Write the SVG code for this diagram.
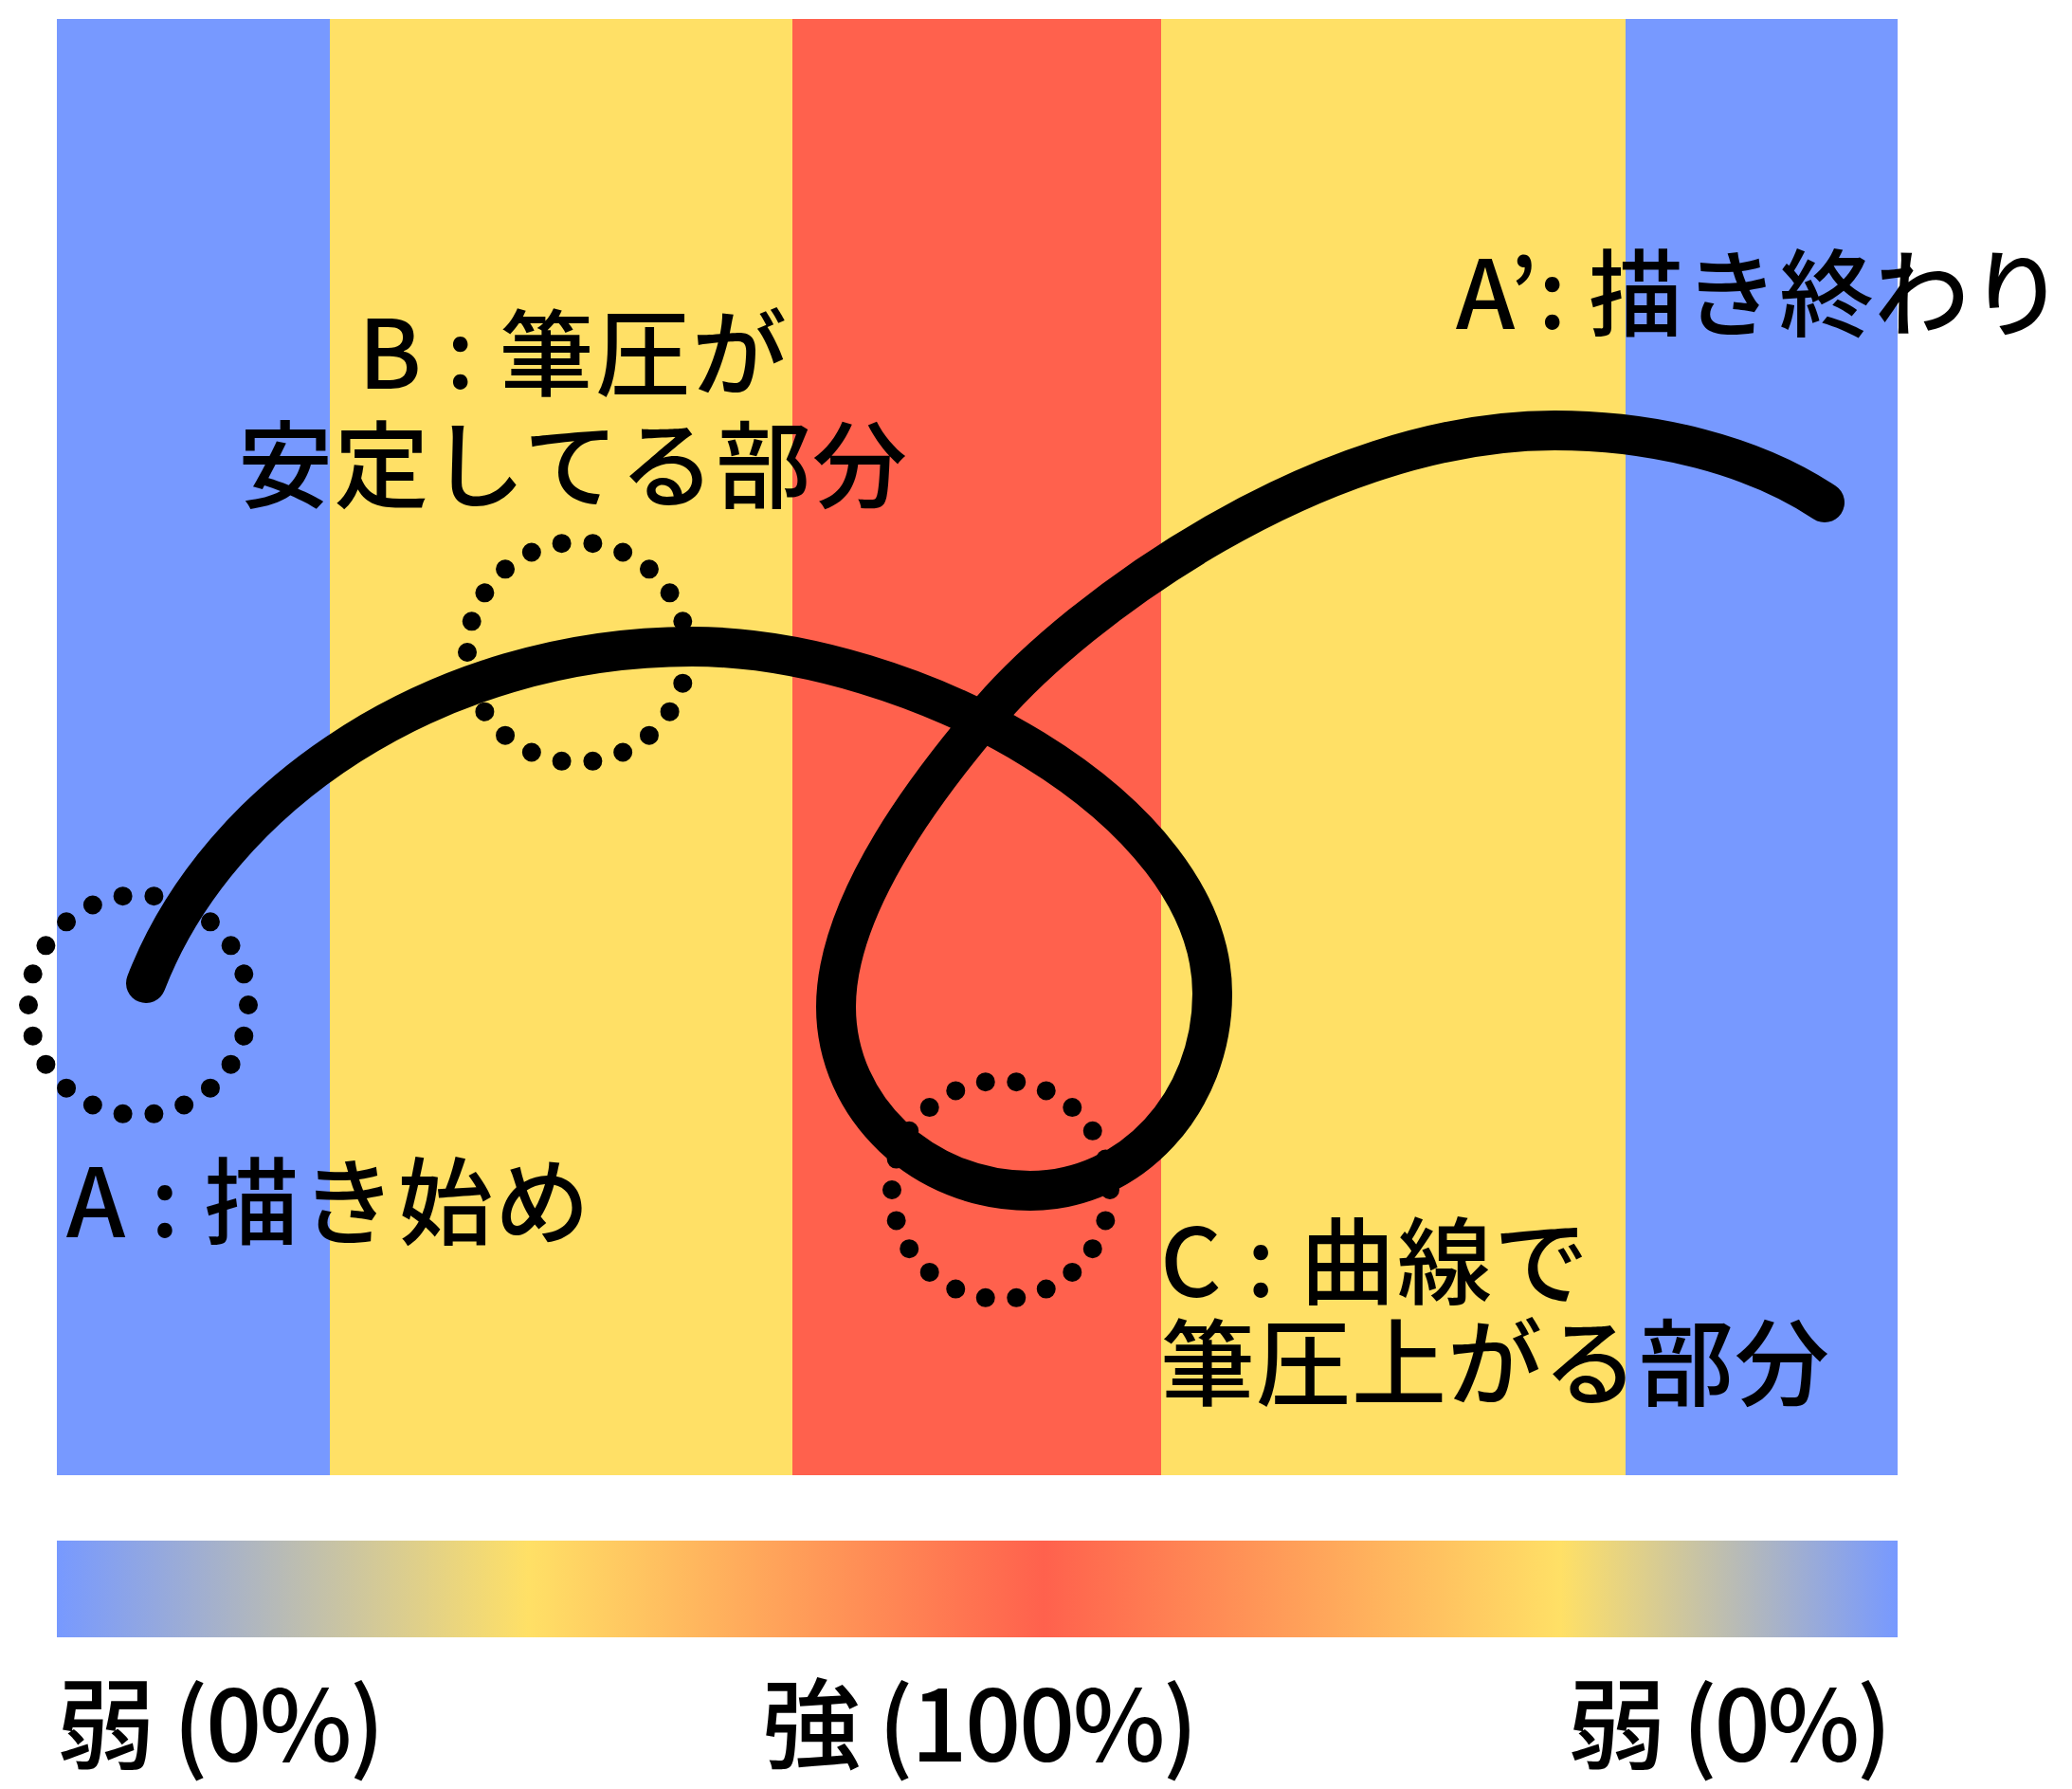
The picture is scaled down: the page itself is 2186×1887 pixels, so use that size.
<svg xmlns="http://www.w3.org/2000/svg" width="2186" height="1887" viewBox="0 0 2186 1887">
<defs>
<style>
.blue{fill:#7799FF}
.yellow{fill:#FFE066}
.red{fill:#FF614D}
.lbl{font-family:"Noto Sans CJK JP","Noto Sans",sans-serif;font-size:100px;font-weight:500;fill:#000}
.scale{font-family:"Noto Sans CJK JP","Noto Sans",sans-serif;font-size:104px;font-weight:500;fill:#000}
.dots{fill:none;stroke:#000;stroke-width:20;stroke-linecap:round;stroke-dasharray:0 1}
.pen{fill:none;stroke:#000;stroke-width:42;stroke-linecap:round;stroke-linejoin:round}
</style>
<linearGradient id="pressure" x1="60" y1="0" x2="2002" y2="0" gradientUnits="userSpaceOnUse">
<stop offset="0" stop-color="#7799FF"/>
<stop offset="0.256" stop-color="#FFE066"/>
<stop offset="0.536" stop-color="#FF614D"/>
<stop offset="0.817" stop-color="#FFE066"/>
<stop offset="1" stop-color="#7799FF"/>
</linearGradient>
</defs>
<rect width="2186" height="1887" fill="#FFFFFF"/>
<g id="stripes">
<rect class="blue" x="60" y="20" width="288" height="1536"/>
<rect class="yellow" x="348" y="20" width="488" height="1536"/>
<rect class="red" x="836" y="20" width="389" height="1536"/>
<rect class="yellow" x="1225" y="20" width="490" height="1536"/>
<rect class="blue" x="1715" y="20" width="287" height="1536"/>
</g>
<g id="connectors">
<path class="pen" d="M154,1037 C230,840 460,682 730,682 C960,682 1279,850 1279,1048 C1279,1163 1193,1256 1087,1256 C974,1256 882,1169 882,1062 C882,950 985,820 1045,750 C1135,645 1390,454 1640,454 C1745,454 1850,480 1925,530"/>
</g>
<g id="circleA"><circle class="dots" cx="146" cy="1060" r="116" pathLength="22"/></g>
<g id="circleB"><circle class="dots" cx="609" cy="688" r="116" pathLength="22"/></g>
<g id="circleC"><circle class="dots" cx="1056" cy="1255" r="115" pathLength="22"/></g>
<g id="labelA"><text class="lbl" x="70" y="1305" textLength="552">A : 描き始め</text></g>
<g id="labelA2"><text class="lbl" x="1536" y="347" textLength="642">A’: 描き終わり</text></g>
<g id="labelB">
<text class="lbl" x="604" y="410" text-anchor="middle" textLength="452">B : 筆圧が</text>
<text class="lbl" x="604" y="528" text-anchor="middle" textLength="706">安定してる部分</text>
</g>
<g id="labelC">
<text class="lbl" x="1224" y="1368" textLength="452">C : 曲線で</text>
<text class="lbl" x="1224" y="1475" textLength="706">筆圧上がる部分</text>
</g>
<g id="gradientBar"><rect x="60" y="1625" width="1942" height="102" fill="url(#pressure)"/></g>
<g id="scaleLabels">
<text class="scale" x="60" y="1858" textLength="346">弱 (0%)</text>
<text class="scale" x="804" y="1858" textLength="460">強 (100%)</text>
<text class="scale" x="1654" y="1858" textLength="342">弱 (0%)</text>
</g>
</svg>
